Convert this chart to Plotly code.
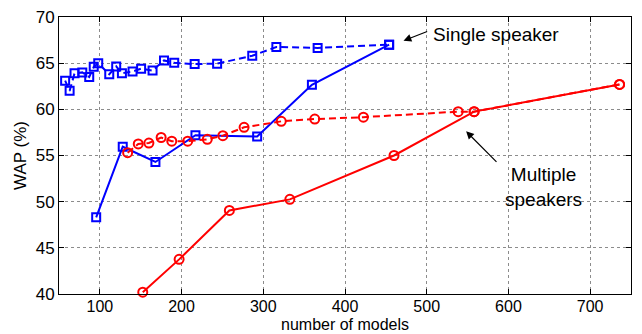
import plotly.graph_objects as go

# Single speaker (blue)
single_dash_x = [57.5, 63, 69, 78.5, 87, 92.5, 98, 111.5, 120, 127, 140, 150.5, 164.5, 178.5, 191, 216, 243.5, 286.5, 316, 366.5, 454]
single_dash_y = [63.1, 62.0, 63.9, 64.0, 63.5, 64.6, 65.0, 63.8, 64.65, 63.9, 64.1, 64.4, 64.2, 65.3, 65.05, 64.9, 64.95, 65.8, 66.75, 66.65, 67.0]
single_solid_x = [95.5, 128, 168, 217, 292.5, 359.5, 454]
single_solid_y = [48.3, 55.95, 54.3, 57.2, 57.05, 62.65, 67.0]

# Multiple speakers (red)
multi_dash_x = [134, 147, 160, 175, 188, 207.5, 231.5, 250.5, 276.5, 322, 363, 422.5, 538.5, 558, 736]
multi_dash_y = [55.3, 56.25, 56.35, 56.95, 56.55, 56.55, 56.75, 57.15, 58.05, 58.7, 58.95, 59.15, 59.75, 59.75, 62.7]
multi_solid_x = [152.5, 197, 258.5, 332.5, 460, 558, 736]
multi_solid_y = [40.2, 43.75, 49.05, 50.25, 55.0, 59.75, 62.7]

x_ticks = [100, 200, 300, 400, 500, 600, 700]
y_ticks = [40, 45, 50, 55, 60, 65, 70]

BLUE = "#0000ff"
RED = "#ff0000"

fig = go.Figure()
fig.add_trace(go.Scatter(x=single_dash_x, y=single_dash_y, mode="lines+markers",
                         line=dict(color=BLUE, width=2, dash="7px,4px"),
                         marker=dict(symbol="square-open", size=8, color=BLUE, line=dict(width=2)),
                         cliponaxis=False, showlegend=False))
fig.add_trace(go.Scatter(x=single_solid_x, y=single_solid_y, mode="lines+markers",
                         line=dict(color=BLUE, width=2),
                         marker=dict(symbol="square-open", size=8, color=BLUE, line=dict(width=2)),
                         cliponaxis=False, showlegend=False))
fig.add_trace(go.Scatter(x=multi_dash_x, y=multi_dash_y, mode="lines+markers",
                         line=dict(color=RED, width=2, dash="7px,4px"),
                         marker=dict(symbol="circle-open", size=9, color=RED, line=dict(width=2)),
                         cliponaxis=False, showlegend=False))
fig.add_trace(go.Scatter(x=multi_solid_x, y=multi_solid_y, mode="lines+markers",
                         line=dict(color=RED, width=2),
                         marker=dict(symbol="circle-open", size=9, color=RED, line=dict(width=2)),
                         cliponaxis=False, showlegend=False))

FONT = "Liberation Sans, Arial, Helvetica, sans-serif"

axis_common = dict(ticks="inside", ticklen=5, tickcolor="black",
                   showline=True, linecolor="black", linewidth=1, mirror="ticks",
                   showgrid=True, gridcolor="#8c8c8c", griddash="dot", gridwidth=1,
                   zeroline=False, automargin=False, tickfont=dict(size=17))

fig.update_layout(
    template="none",
    width=642, height=334,
    margin=dict(l=59, r=11, t=17, b=40),
    paper_bgcolor="white", plot_bgcolor="white",
    font=dict(family=FONT, size=17, color="black"),
    xaxis=dict(range=[50, 750], tickvals=x_ticks, **axis_common),
    yaxis=dict(range=[40, 70], tickvals=y_ticks,
               title=dict(text="WAP (%)", font=dict(size=17), standoff=4), **axis_common),
)
fig.update_xaxes(tickfont=dict(size=16), ticklabelstandoff=-2)

# x-axis title placed at the bottom edge, just under the tick labels, as in the reference
fig.add_annotation(x=0.5, y=-40 / 277, xref="paper", yref="paper", text="number of models",
                   showarrow=False, xanchor="center", yanchor="bottom", borderpad=0,
                   font=dict(size=16, family=FONT))

fig.add_annotation(x=471.6, y=67.43, ax=502.4, ay=68.5, axref="x", ayref="y", xref="x", yref="y",
                   text="", showarrow=True, arrowhead=2, arrowsize=1.3, arrowwidth=1.2, arrowcolor="black")
fig.add_annotation(x=505, y=68.15, xref="x", yref="y", text="Single speaker", showarrow=False,
                   xanchor="left", yanchor="middle", font=dict(size=19, family=FONT))
fig.add_annotation(x=548.2, y=57.62, ax=587.2, ay=54.14, axref="x", ayref="y", xref="x", yref="y",
                   text="", showarrow=True, arrowhead=2, arrowsize=1.3, arrowwidth=1.2, arrowcolor="black")
fig.add_annotation(x=643, y=51.6, xref="x", yref="y", text="Multiple<br>speakers", showarrow=False,
                   xanchor="center", yanchor="middle", align="center", font=dict(size=19, family=FONT))

fig.write_html("out.html", config={"displayModeBar": False},
               post_script="document.body.style.margin='0';document.body.style.padding='0';document.body.style.overflow='hidden';")
